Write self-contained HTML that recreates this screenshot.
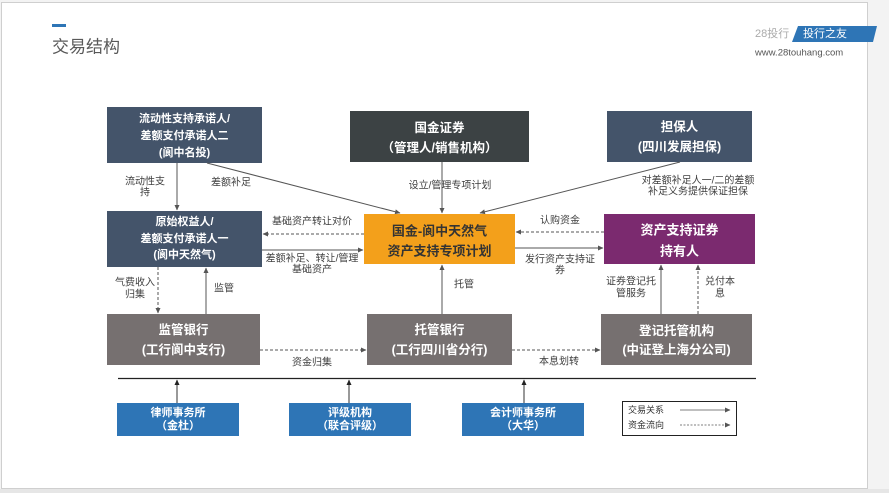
<!DOCTYPE html>
<html><head><meta charset="utf-8"><style>
html,body{margin:0;padding:0;background:#f3f3f3;}
svg{display:block;}
text{font-family:"Liberation Sans","Noto Sans CJK SC",sans-serif;}
.b{font-weight:bold;fill:#fff;text-anchor:middle;dominant-baseline:central;}
.l{font-size:10px;fill:#404040;text-anchor:middle;dominant-baseline:central;}
</style></head><body>
<svg width="889" height="493" viewBox="0 0 889 493" xmlns="http://www.w3.org/2000/svg">
<defs>
<marker id="a" markerWidth="6" markerHeight="6" refX="5" refY="3" orient="auto" markerUnits="userSpaceOnUse">
<path d="M0,0.5 L5.5,3 L0,5.5 Z" fill="#555"/></marker>
<marker id="k" markerWidth="6" markerHeight="6" refX="5" refY="3" orient="auto" markerUnits="userSpaceOnUse">
<path d="M0,0.5 L5.5,3 L0,5.5 Z" fill="#222"/></marker>
</defs>
<rect x="0" y="0" width="889" height="493" fill="#f3f3f3"/>
<rect x="1.5" y="2.5" width="866" height="486" fill="#fff" stroke="#cfcfcf" stroke-width="1"/>
<rect x="0" y="489" width="889" height="4" fill="#e6e6e6"/>

<!-- title -->
<rect x="52" y="24" width="14" height="3" fill="#2e75b6"/>
<text x="52" y="47" font-size="17" fill="#595959" dominant-baseline="central">交易结构</text>

<!-- logo -->
<text x="755" y="34" font-size="11" fill="#aaa" dominant-baseline="central">28投行</text>
<path d="M798,26 L877,26 L873,42 L792,42 Z" fill="#2e75b6"/>
<text x="825" y="34" font-size="11" fill="#fff" text-anchor="middle" dominant-baseline="central">投行之友</text>
<text x="755" y="53" font-size="9.5" fill="#555" dominant-baseline="central">www.28touhang.com</text>

<!-- boxes -->
<rect x="107" y="107" width="155" height="56" fill="#44546a"/>
<text class="b" font-size="11" x="184.5" y="119">流动性支持承诺人/</text>
<text class="b" font-size="11" x="184.5" y="136">差额支付承诺人二</text>
<text class="b" font-size="11" x="184.5" y="153">(阆中名投)</text>

<rect x="350" y="111" width="179" height="51" fill="#3c4244"/>
<text class="b" font-size="12.5" x="439.5" y="128">国金证券</text>
<text class="b" font-size="12.5" x="439.5" y="148">（管理人/销售机构）</text>

<rect x="607" y="111" width="145" height="51" fill="#44546a"/>
<text class="b" font-size="12.5" x="679.5" y="127">担保人</text>
<text class="b" font-size="12.5" x="679.5" y="147">(四川发展担保)</text>

<rect x="107" y="211" width="155" height="56" fill="#44546a"/>
<text class="b" font-size="11" x="184.5" y="222">原始权益人/</text>
<text class="b" font-size="11" x="184.5" y="239">差额支付承诺人一</text>
<text class="b" font-size="11" x="184.5" y="255">(阆中天然气)</text>

<rect x="364" y="214" width="151" height="50" fill="#f3a01b"/>
<text class="b" font-size="13" x="439.5" y="231" style="fill:#333">国金-阆中天然气</text>
<text class="b" font-size="13" x="439.5" y="251" style="fill:#333">资产支持专项计划</text>

<rect x="604" y="214" width="151" height="50" fill="#7b2a6f"/>
<text class="b" font-size="13" x="679.5" y="230">资产支持证券</text>
<text class="b" font-size="13" x="679.5" y="251">持有人</text>

<rect x="107" y="314" width="153" height="51" fill="#767070"/>
<text class="b" font-size="12.5" x="183.5" y="330">监管银行</text>
<text class="b" font-size="12.5" x="183.5" y="350">(工行阆中支行)</text>

<rect x="367" y="314" width="145" height="51" fill="#767070"/>
<text class="b" font-size="12.5" x="439.5" y="330">托管银行</text>
<text class="b" font-size="12.5" x="439.5" y="350">(工行四川省分行)</text>

<rect x="601" y="314" width="151" height="51" fill="#767070"/>
<text class="b" font-size="12.5" x="676.5" y="331">登记托管机构</text>
<text class="b" font-size="12.5" x="676.5" y="350">(中证登上海分公司)</text>

<rect x="117" y="403" width="122" height="33" fill="#2e75b6"/>
<text class="b" font-size="11" x="178" y="413">律师事务所</text>
<text class="b" font-size="11" x="178" y="426">（金杜）</text>
<rect x="289" y="403" width="122" height="33" fill="#2e75b6"/>
<text class="b" font-size="11" x="350" y="413">评级机构</text>
<text class="b" font-size="11" x="350" y="426">（联合评级）</text>
<rect x="462" y="403" width="122" height="33" fill="#2e75b6"/>
<text class="b" font-size="11" x="523" y="413">会计师事务所</text>
<text class="b" font-size="11" x="523" y="426">（大华）</text>

<!-- legend -->
<rect x="622.5" y="401.5" width="114" height="34" fill="#fff" stroke="#222" stroke-width="1"/>
<text x="628" y="410" font-size="9" fill="#333" dominant-baseline="central">交易关系</text>
<text x="628" y="425" font-size="9" fill="#333" dominant-baseline="central">资金流向</text>
<line x1="680" y1="410" x2="730" y2="410" stroke="#555" stroke-width="0.8" marker-end="url(#a)"/>
<line x1="680" y1="425" x2="730" y2="425" stroke="#555" stroke-width="0.8" stroke-dasharray="2,1.5" marker-end="url(#a)"/>

<!-- connectors -->
<g stroke="#555" stroke-width="1" fill="none">
<line x1="177" y1="163" x2="177" y2="210" marker-end="url(#a)"/>
<line x1="207" y1="163" x2="400" y2="213" marker-end="url(#a)"/>
<line x1="442" y1="162" x2="442" y2="213" marker-end="url(#a)"/>
<line x1="680" y1="162" x2="480" y2="213" marker-end="url(#a)"/>
<line x1="364" y1="234" x2="263" y2="234" stroke-dasharray="3,2" marker-end="url(#a)"/>
<line x1="262" y1="250" x2="363" y2="250" marker-end="url(#a)"/>
<line x1="604" y1="232" x2="516" y2="232" stroke-dasharray="3,2" marker-end="url(#a)"/>
<line x1="515" y1="248" x2="603" y2="248" marker-end="url(#a)"/>
<line x1="158" y1="267" x2="158" y2="313" stroke-dasharray="3,2" marker-end="url(#a)"/>
<line x1="206" y1="314" x2="206" y2="268" marker-end="url(#a)"/>
<line x1="442" y1="314" x2="442" y2="265" marker-end="url(#a)"/>
<line x1="661" y1="314" x2="661" y2="265" marker-end="url(#a)"/>
<line x1="698" y1="314" x2="698" y2="265" stroke-dasharray="3,2" marker-end="url(#a)"/>
<line x1="260" y1="350" x2="366" y2="350" stroke-dasharray="3,2" marker-end="url(#a)"/>
<line x1="512" y1="350" x2="600" y2="350" stroke-dasharray="3,2" marker-end="url(#a)"/>
</g>
<line x1="118" y1="378.5" x2="756" y2="378.5" stroke="#222" stroke-width="1.3"/>
<g stroke="#333" stroke-width="1">
<line x1="177" y1="403" x2="177" y2="380" marker-end="url(#k)"/>
<line x1="349" y1="403" x2="349" y2="380" marker-end="url(#k)"/>
<line x1="524" y1="403" x2="524" y2="380" marker-end="url(#k)"/>
</g>

<!-- labels -->
<text class="l" x="145" y="182">流动性支</text>
<text class="l" x="145" y="193">持</text>
<text class="l" x="231" y="183">差额补足</text>
<text class="l" x="312" y="222">基础资产转让对价</text>
<text class="l" x="312" y="259">差额补足、转让/管理</text>
<text class="l" x="312" y="270">基础资产</text>
<text class="l" x="450" y="186">设立/管理专项计划</text>
<text class="l" x="560" y="221">认购资金</text>
<text class="l" x="560" y="260">发行资产支持证</text>
<text class="l" x="560" y="271">券</text>
<text class="l" x="698" y="181">对差额补足人一/二的差额</text>
<text class="l" x="698" y="192">补足义务提供保证担保</text>
<text class="l" x="135" y="283">气费收入</text>
<text class="l" x="135" y="295">归集</text>
<text class="l" x="224" y="289">监管</text>
<text class="l" x="312" y="363">资金归集</text>
<text class="l" x="464" y="285">托管</text>
<text class="l" x="631" y="282">证券登记托</text>
<text class="l" x="631" y="294">管服务</text>
<text class="l" x="720" y="282">兑付本</text>
<text class="l" x="720" y="294">息</text>
<text class="l" x="559" y="362">本息划转</text>
</svg>
</body></html>
